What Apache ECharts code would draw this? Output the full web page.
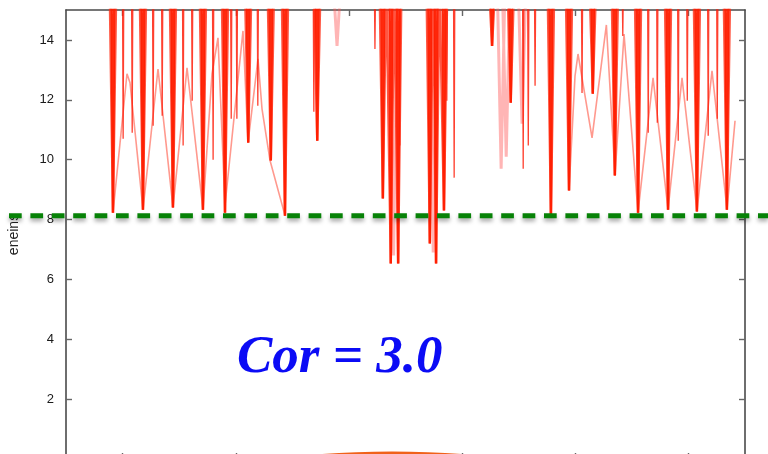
<!DOCTYPE html>
<html>
<head>
<meta charset="utf-8">
<script src="https://cdn.jsdelivr.net/npm/echarts@6.0.0/dist/echarts.min.js"></script>
<style>
  html, body { margin: 0; padding: 0; background: #fff; }
  #main { width: 768px; height: 454px; }
</style>
</head>
<body>
<div id="main"></div>
<script>
// ---- data ----
// deep bundles of curves (x, minimum)
var dipX   = [8.3, 13.6, 18.9, 24.2, 28.1, 32.2, 36.2, 38.7, 44.4, 56.0, 57.4, 58.7, 64.3, 65.4, 66.8, 75.3, 78.6, 85.7, 88.9, 93.1, 97.0, 101.1, 106.4, 111.5, 116.8];
var dipMin = [8.23, 8.33, 8.4, 8.33, 8.23, 10.57, 9.97, 8.13, 10.63, 8.7, 6.53, 6.53, 7.2, 6.53, 8.3, 13.8, 11.9, 8.07, 8.97, 12.2, 9.47, 8.23, 8.33, 8.27, 8.33];
// faint (pink) bundles
var faintX   = [47.9, 76.9, 77.8, 80.6, 57.9, 64.9];
var faintMin = [13.8, 9.7, 10.1, 11.2, 6.8, 6.9];
// single thin curves
var thinX   = [10.1, 11.7, 15.4, 17.0, 20.7, 22.3, 26.0, 29.2, 30.2, 33.9, 43.8, 54.6, 59.0, 67.3, 68.6, 80.8, 81.7, 82.9, 91.2, 98.4, 102.9, 104.5, 108.2, 109.8, 113.5, 115.1];
var thinMin = [10.7, 10.9, 11.13, 11.47, 10.47, 11.97, 10.0, 11.37, 11.37, 11.8, 11.6, 13.7, 10.47, 11.97, 9.4, 9.7, 10.47, 12.47, 12.23, 14.13, 10.9, 11.23, 10.63, 11.97, 10.8, 11.37];
// zig-zag connecting line, left and right parts
var zigLeftX = [8.31, 10.78, 11.31, 13.61, 16.26, 18.91, 21.39, 24.21, 25.80, 26.86, 28.10, 31.28, 32.17, 33.93, 34.64, 36.06, 38.71];
var zigLeftY = [8.23, 12.87, 12.57, 8.33, 13.03, 8.4, 13.07, 8.33, 12.87, 14.07, 8.47, 14.3, 10.57, 13.37, 11.7, 9.97, 8.13];
var zigRightX = [88.9, 89.96, 90.49, 92.97, 95.5, 97.03, 98.62, 101.09, 103.75, 106.4, 108.87, 111.52, 114.17, 116.82, 118.24];
var zigRightY = [8.97, 12.8, 13.53, 10.73, 14.5, 9.47, 14.2, 8.23, 12.73, 8.33, 12.73, 8.27, 12.97, 8.33, 11.3];
// reference level (green dashed)
var refLevel = [8.13];
// axes
var yTicks = [0, 2, 4, 6, 8, 10, 12, 14];
var xTicks = [10, 30, 50, 70, 90, 110];
var yName = 'eneins';
var note = 'Cor = 3.0';

var TOP = 16; // curves continue above the frame

function vShapes(xs, mins, hw) {
    var pts = [];
    xs.forEach(function (x, i) {
        pts.push([x - hw, TOP], [x, mins[i]], [x + hw, TOP]);
    });
    return pts;
}
function pairs(xs, ys) {
    return xs.map(function (x, i) { return [x, ys[i]]; });
}

var frame = { show: true, onZero: false, lineStyle: { color: '#4a4a4a', width: 1.6 } };
var tickStyle = { color: '#666', width: 1.4 };

var myChart = echarts.init(document.getElementById('main'));
var option = {
    animation: false,
    backgroundColor: '#fff',
    grid: { left: 66, right: 23, top: 10, bottom: -5, outerBoundsMode: 'none', containLabel: false },
    xAxis: [
        {
            type: 'value', min: 0, max: 120, position: 'bottom',
            axisLine: frame,
            axisTick: { inside: true, length: 6, customValues: xTicks, lineStyle: tickStyle },
            axisLabel: { show: false },
            splitLine: { show: false }
        },
        {
            type: 'value', min: 0, max: 120, position: 'top',
            axisLine: frame,
            axisTick: { inside: true, length: 6, customValues: xTicks, lineStyle: tickStyle },
            axisLabel: { show: false },
            splitLine: { show: false }
        }
    ],
    yAxis: [
        {
            type: 'value', min: 0, max: 15, position: 'left',
            axisLine: frame,
            axisTick: { inside: true, length: 6, customValues: yTicks, lineStyle: tickStyle },
            axisLabel: {
                customValues: yTicks, margin: 12, fontSize: 13,
                fontFamily: 'Liberation Sans', color: '#1a1a1a'
            },
            splitLine: { show: false },
            name: yName, nameLocation: 'middle', nameRotate: 90, nameGap: 45,
            nameTextStyle: { fontSize: 14, fontFamily: 'Liberation Sans', color: '#222' }
        },
        {
            type: 'value', min: 0, max: 15, position: 'right',
            axisLine: frame,
            axisTick: { inside: true, length: 6, customValues: yTicks, lineStyle: tickStyle },
            axisLabel: { show: false },
            splitLine: { show: false }
        }
    ],
    series: [
        {
            type: 'line', name: 'faint', showSymbol: false, silent: true,
            data: vShapes(faintX, faintMin, 0.7),
            lineStyle: { color: 'rgba(255,90,90,0.45)', width: 3 }
        },
        {
            type: 'line', name: 'zigL', showSymbol: false, silent: true,
            data: pairs(zigLeftX, zigLeftY),
            lineStyle: { color: 'rgba(255,70,50,0.55)', width: 1.6 }
        },
        {
            type: 'line', name: 'zigR', showSymbol: false, silent: true,
            data: pairs(zigRightX, zigRightY),
            lineStyle: { color: 'rgba(255,70,50,0.55)', width: 1.6 }
        },
        {
            type: 'line', name: 'thin', showSymbol: false, silent: true,
            data: vShapes(thinX, thinMin, 0.12),
            lineStyle: { color: 'rgba(255,30,10,0.85)', width: 1.3 }
        },
        {
            type: 'line', name: 'dipsOuter', showSymbol: false, silent: true,
            data: vShapes(dipX, dipMin, 0.6),
            lineStyle: { color: 'rgba(255,45,20,0.8)', width: 2.4 }
        },
        {
            type: 'line', name: 'dipsInner', showSymbol: false, silent: true,
            data: vShapes(dipX, dipMin, 0.25),
            lineStyle: { color: 'rgba(255,30,0,0.95)', width: 2.4 }
        },
        {
            type: 'custom', name: 'level', silent: true, clip: false,
            data: refLevel.map(function (v) { return [0, v]; }),
            renderItem: function (params, api) {
                var y = api.coord([0, api.value(1)])[1];
                return {
                    type: 'line',
                    shape: { x1: 9, y1: y, x2: api.getWidth(), y2: y },
                    style: {
                        stroke: '#078207', lineWidth: 5, lineDash: [12.7, 8.7],
                        shadowColor: 'rgba(0,0,0,0.35)', shadowBlur: 4, shadowOffsetY: 3
                    }
                };
            },
            z: 10
        }
    ],
    graphic: [
        {
            type: 'text', left: 237, top: 332, z: 20,
            style: {
                text: note, fill: '#0b0bf5',
                font: 'italic bold 53px "Liberation Serif"',
                shadowColor: 'rgba(0,0,0,0.35)', shadowBlur: 3, shadowOffsetX: 3, shadowOffsetY: 3
            }
        },
        {
            type: 'ellipse', z: 20,
            shape: { cx: 392, cy: 491.5, rx: 200, ry: 40 },
            style: { fill: '#f0621a' }
        }
    ]
};
window.onresize = myChart.resize;
myChart.setOption(option);
</script>
</body>
</html>
